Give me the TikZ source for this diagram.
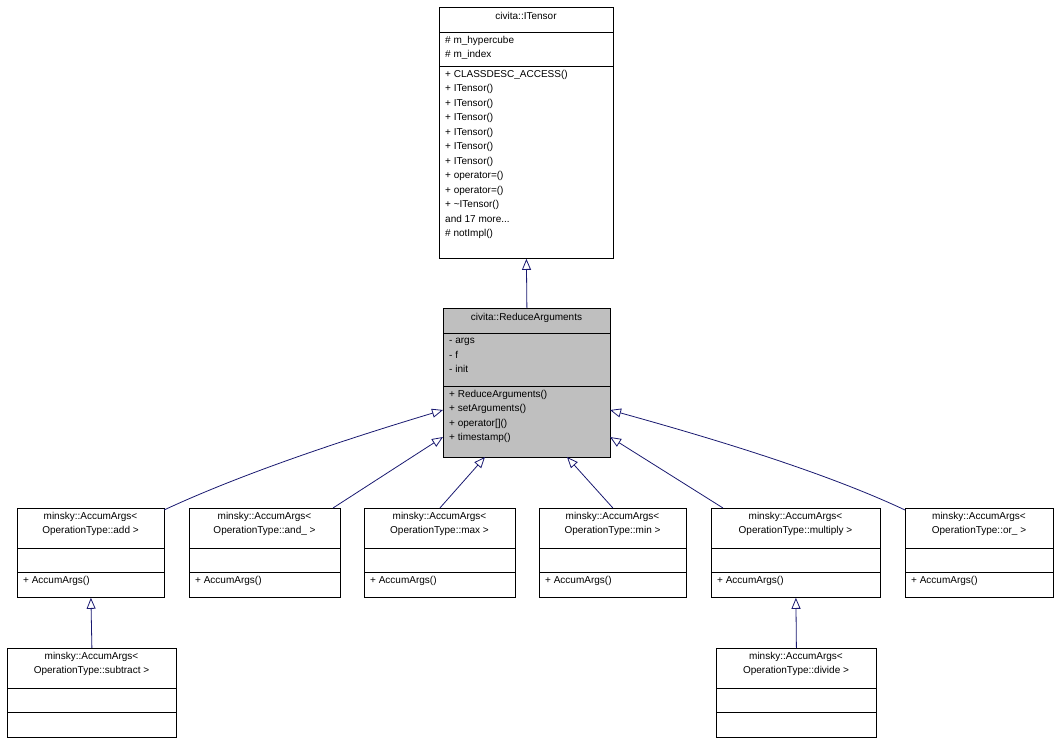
\documentclass[tikz,border=0pt]{standalone}
\usepackage{fontspec}
\setmainfont{Liberation Sans}
\usetikzlibrary{arrows.meta, positioning}
\definecolor{edgenavy}{RGB}{25, 25, 112}
\definecolor{mainfill}{RGB}{191, 191, 191}

\begin{document}
\begin{tikzpicture}[
    x=1pt, y=-1pt,
    box/.style={rectangle, draw=black, line width=0.8pt, anchor=north west, inner sep=0pt},
    txt/.style={anchor=north west, inner sep=0pt, align=left, font=\fontsize{10}{14.5}\selectfont},
    ttl/.style={anchor=north, inner sep=0pt, align=center, font=\fontsize{10}{14.5}\selectfont},
    inherit/.style={-{Triangle[open, length=11pt, width=9pt]}, color=edgenavy, line width=0.8pt},
]
\useasboundingbox (0,0) rectangle (1057,743);

% Base class
\node[box, minimum width=174pt, minimum height=251pt] (itensor) at (439,7) {};
\draw (439,32) -- (613,32);
\draw (439,66) -- (613,66);
\node[ttl] (itensorT) at (526,12) {civita::ITensor};
\node[txt] (itensorA) at (445,36) {\# m\_hypercube\\\# m\_index};
\node[txt] (itensorM) at (445,70) {+ CLASSDESC\_ACCESS()\\+ ITensor()\\+ ITensor()\\+ ITensor()\\+ ITensor()\\+ ITensor()\\+ ITensor()\\+ operator=()\\+ operator=()\\+ \textasciitilde ITensor()\\and 17 more...\\\# notImpl()};

% Main class
\node[box, fill=mainfill, minimum width=167pt, minimum height=149pt] (reduce) at (443,308) {};
\draw (443,333) -- (610,333);
\draw (443,386) -- (610,386);
\node[ttl] (reduceT) at (526.5,313) {civita::ReduceArguments};
\node[txt] (reduceA) at (449,338) {- args\\- f\\- init};
\node[txt] (reduceM) at (449,390) {+ ReduceArguments()\\+ setArguments()\\+ operator[]()\\+ timestamp()};

% Derived classes
\foreach \name/\x/\w/\op in {add/17/147/add, and/189/151/and\_, max/364/151/max, min/539/147/min, mul/711/169/multiply, or/905/148/or\_,
                             sub/7/169/subtract, div/716/160/divide} {
    \ifnum\x=7 \def\y{648}\else\ifnum\x=716 \def\y{648}\else\def\y{508}\fi\fi
    \node[box, minimum width=\w pt, minimum height=89pt] (\name) at (\x,\y) {};
    \draw (\x,\y+40) -- (\x+\w,\y+40);
    \draw (\x,\y+64) -- (\x+\w,\y+64);
    \node[ttl] (\name T) at (\x+\w/2,\y+4) {minsky::AccumArgs<\\ OperationType::\op\ >};
}
\foreach \name in {add, and, max, min, mul, or}
    \node[txt] (\name M) at ([xshift=6pt, yshift=-68pt]\name.north west) {+ AccumArgs()};

% Inheritance edges
\coordinate (rA) at (443,410);
\coordinate (rB) at (443,437);
\coordinate (rC) at (485,457);
\coordinate (rD) at (567,457);
\coordinate (rE) at (610,437);
\coordinate (rF) at (610,410);
\coordinate (cA) at (164,510);
\coordinate (cB) at (333,508);
\coordinate (cE) at (723,508);
\coordinate (cF) at (905,510);
\draw[inherit] (reduce.north) -- (itensor.south);
\draw[inherit] (cA) .. controls (250,470) and (360,435) .. (rA);
\draw[inherit] (cB) -- (rB);
\draw[inherit] (max.north) -- (rC);
\draw[inherit] (min.north) -- (rD);
\draw[inherit] (cE) -- (rE);
\draw[inherit] (cF) .. controls (820,470) and (700,435) .. (rF);
\draw[inherit] (sub.north) -- (add.south);
\draw[inherit] (div.north) -- (mul.south);
\end{tikzpicture}
\end{document}
